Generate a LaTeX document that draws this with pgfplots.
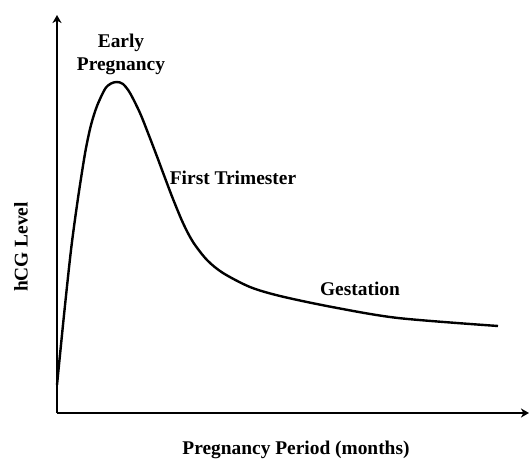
\documentclass[border=0pt]{standalone}
\usepackage{pgfplots}
\pgfplotsset{compat=1.18}
\usepackage{fontspec}
\setmainfont{Liberation Serif}
\usetikzlibrary{arrows.meta}
\begin{document}
\begin{tikzpicture}
\begin{axis}[
  x=0.5pt, y=0.5pt,
  xmin=0, xmax=472, ymin=0, ymax=398,
  axis lines=left,
  axis line style={line width=1pt, -{Stealth[length=4pt,width=4.5pt,inset=1.2pt]}},
  xtick=\empty, ytick=\empty,
  clip=false,
  font=\fontsize{9.7}{11.5}\selectfont\bfseries,
]
\addplot[black, line width=1.2pt, smooth, tension=0.5] coordinates {
(0,28) (7,98) (14,163) (20,208) (25,241) (29,265) (34,288) (40,307)
(48,324) (54,329.5) (60,331) (66,329) (73,320) (83,300) (91,280)
(100,256.5) (108,235) (116,214) (126,190) (136,171) (150,153)
(166,140) (193,126) (223,117) (275,106) (341,95) (441,87)
};
\node[align=center] at (axis cs:64,359) {Early\\Pregnancy};
\node at (axis cs:176,235) {First Trimester};
\node at (axis cs:303,124) {Gestation};
\node at (axis cs:239,-37) {Pregnancy Period (months)};
\node[rotate=90] at (axis cs:-36,166) {hCG Level};
\coordinate (bl) at (axis cs:-57,-48);
\coordinate (tr) at (axis cs:473,413);
\end{axis}
\pgfresetboundingbox
\path[use as bounding box] (bl) rectangle (tr);
\end{tikzpicture}
\end{document}
